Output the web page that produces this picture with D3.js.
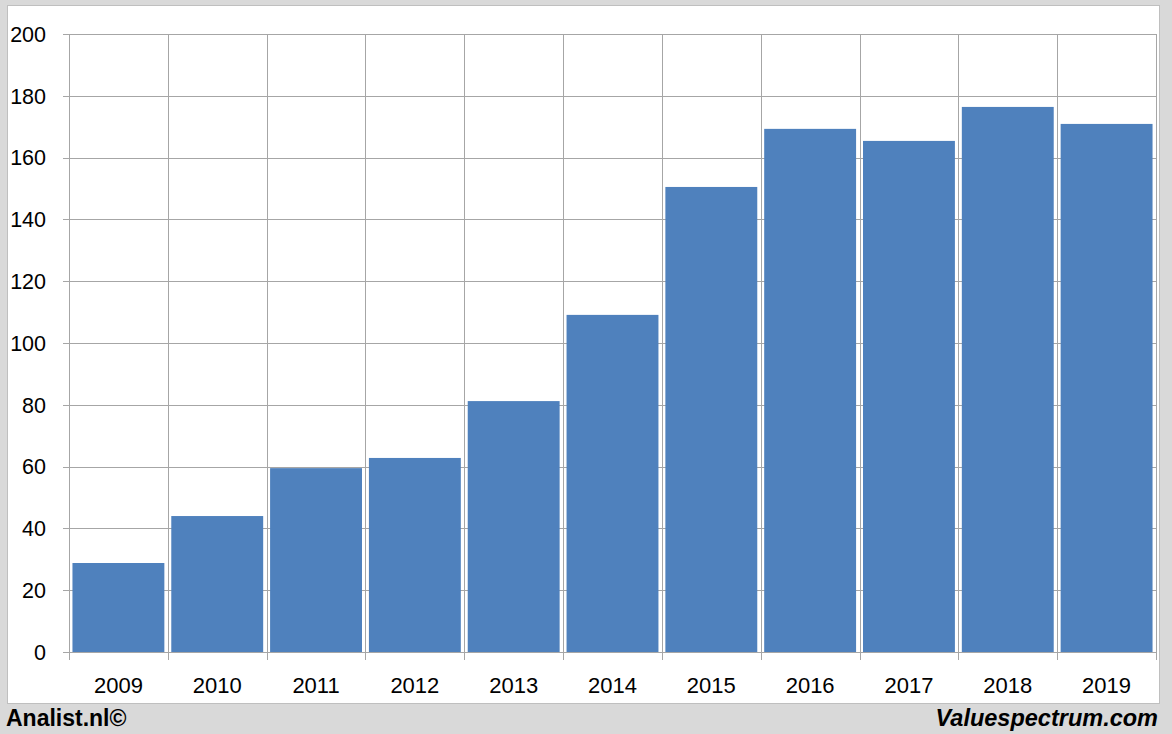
<!DOCTYPE html>
<html><head><meta charset="utf-8">
<script src="https://cdn.jsdelivr.net/npm/d3@7"></script>
<style>
html,body{margin:0;padding:0;background:#d9d9d9;}
svg{display:block;}
</style></head>
<body>
<script>
const categories = ["2009","2010","2011","2012","2013","2014","2015","2016","2017","2018","2019"];
const values = [28.8, 44.0, 59.5, 62.8, 81.2, 109.1, 150.5, 169.3, 165.4, 176.4, 170.9];
const yTicks = [0,20,40,60,80,100,120,140,160,180,200];
const footerLeft = "Analist.nl©";
const footerRight = "Valuespectrum.com";

const W = 1172, H = 734;
const svg = d3.select("body").append("svg").attr("width", W).attr("height", H);
svg.append("rect").attr("width", W).attr("height", H).attr("fill", "#d9d9d9");
svg.append("rect").attr("x", 7.5).attr("y", 5.5).attr("width", 1152).attr("height", 698)
  .attr("fill", "#fff").attr("stroke", "#bfbfbf").attr("stroke-width", 1);

const x0 = 69, x1 = 1156, yTop = 34, yBot = 652;
const x = d3.scaleBand().domain(categories).range([x0, x1]).paddingInner(0.07).paddingOuter(0.035);
const xb = d3.scaleBand().domain(categories).range([x0, x1]).padding(0);
const y = d3.scaleLinear().domain([0, 200]).range([yBot, yTop]);

const font = "'Liberation Sans', Arial, sans-serif";
const grid = "#a6a6a6";

// horizontal gridlines
svg.append("g").selectAll("line").data(yTicks).join("line")
  .attr("x1", x0 - 6).attr("x2", x1)
  .attr("y1", d => Math.round(y(d)) + 0.5).attr("y2", d => Math.round(y(d)) + 0.5)
  .attr("stroke", grid).attr("stroke-width", 1);

// vertical gridlines at category boundaries
const bounds = categories.map(c => xb(c)).concat([x1]);
svg.append("g").selectAll("line").data(bounds).join("line")
  .attr("x1", d => Math.round(d) + 0.5).attr("x2", d => Math.round(d) + 0.5)
  .attr("y1", yTop).attr("y2", yBot + 8)
  .attr("stroke", grid).attr("stroke-width", 1);

// bars
svg.append("g").selectAll("rect").data(values).join("rect")
  .attr("x", (d, i) => x(categories[i]))
  .attr("width", x.bandwidth())
  .attr("y", d => y(d))
  .attr("height", d => yBot - y(d))
  .attr("fill", "#4f81bd");

// y axis labels
svg.append("g").selectAll("text").data(yTicks).join("text")
  .attr("x", 46).attr("y", d => y(d)).attr("dy", "0.36em")
  .attr("text-anchor", "end").attr("font-family", font).attr("font-size", 21.5)
  .attr("fill", "#000").text(d => d);

// x axis labels
svg.append("g").selectAll("text").data(categories).join("text")
  .attr("x", d => xb(d) + xb.bandwidth() / 2).attr("y", 693)
  .attr("text-anchor", "middle").attr("font-family", font).attr("font-size", 22)
  .attr("fill", "#000").text(d => d);

// footer
svg.append("text").attr("x", 6).attr("y", 726).attr("font-family", font)
  .attr("font-size", 23).attr("font-weight", "bold").attr("fill", "#000").text(footerLeft);
svg.append("text").attr("x", 1158).attr("y", 726).attr("text-anchor", "end").attr("font-family", font)
  .attr("font-size", 23.5).attr("font-weight", "bold").attr("font-style", "italic").attr("fill", "#000").text(footerRight);
</script>
</body></html>
